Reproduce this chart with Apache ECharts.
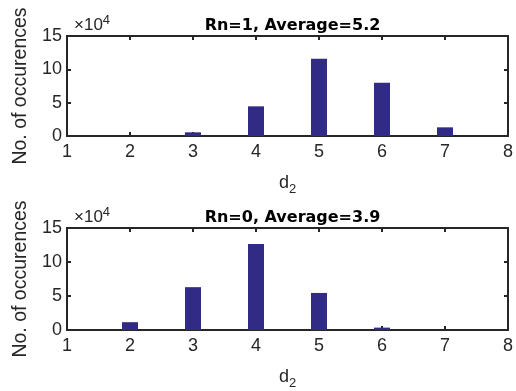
<!DOCTYPE html>
<html><head><meta charset="utf-8">
<script src="https://cdn.jsdelivr.net/npm/echarts@6/dist/echarts.min.js"></script>
<style>html,body{margin:0;padding:0;background:#fff}#c{width:516px;height:391px}</style>
</head><body><div id="c"></div>
<script>
var d2Top = [2, 3, 4, 5, 6, 7];
var countsTop = [0, 5500, 44500, 116000, 80000, 13000];
var d2Bottom = [2, 3, 4, 5, 6, 7];
var countsBottom = [11500, 63000, 126500, 54500, 3500, 0];
var titles = ['Rn=1, Average=5.2', 'Rn=0, Average=3.9'];
var xTicks = [1, 2, 3, 4, 5, 6, 7, 8];
var yTicks = [0, 5, 10, 15];
var yScale = 1e4;

var FONT = 'Liberation Sans, Arial, Helvetica, sans-serif';
var AX = '#262626';
var grids = [{left: 67, right: 8, top: 36, height: 100}, {left: 67, right: 8, top: 228, height: 102}];

function pairs(xs, ys) { return xs.map(function (x, i) { return [x, ys[i]]; }); }

var xAxes = [], yAxes = [], series = [], titleArr = [];
grids.forEach(function (g, i) {
  xAxes.push({
    type: 'value', gridIndex: i, min: xTicks[0], max: xTicks[xTicks.length - 1], interval: 1,
    axisLine: {onZero: false, lineStyle: {color: AX, width: 2}},
    axisTick: {inside: true, length: 4, lineStyle: {color: AX, width: 2}},
    splitLine: {show: false},
    axisLabel: {color: AX, fontSize: 18, fontFamily: FONT, margin: 7},
    name: 'd{s|2}', nameLocation: 'middle', nameGap: 35,
    nameTextStyle: {color: AX, fontSize: 18, fontFamily: FONT,
      rich: {s: {fontSize: 13, verticalAlign: 'bottom', padding: [12, 0, 0, 0], fontFamily: FONT, color: AX}}}
  });
  xAxes.push({
    type: 'value', gridIndex: i, position: 'top', min: xTicks[0], max: xTicks[xTicks.length - 1], interval: 1,
    axisLine: {onZero: false, lineStyle: {color: AX, width: 2}},
    axisTick: {inside: true, length: 4, lineStyle: {color: AX, width: 2}},
    splitLine: {show: false}, axisLabel: {show: false}
  });
  yAxes.push({
    type: 'value', gridIndex: i, min: yTicks[0] * yScale, max: yTicks[yTicks.length - 1] * yScale, interval: 5 * yScale,
    axisLine: {show: true, onZero: false, lineStyle: {color: AX, width: 2}},
    axisTick: {show: true, inside: true, length: 4, lineStyle: {color: AX, width: 2}},
    splitLine: {show: false},
    axisLabel: {color: AX, fontSize: 18, fontFamily: FONT, margin: 5, formatter: function (v) { return String(v / yScale); }},
    name: 'No. of occurences', nameLocation: 'middle', nameGap: 36,
    nameTextStyle: {color: AX, fontSize: 19.5, fontFamily: FONT}
  });
  yAxes.push({
    type: 'value', gridIndex: i, position: 'right', min: yTicks[0] * yScale, max: yTicks[yTicks.length - 1] * yScale, interval: 5 * yScale,
    axisLine: {show: true, onZero: false, lineStyle: {color: AX, width: 2}},
    axisTick: {show: true, inside: true, length: 4, lineStyle: {color: AX, width: 2}},
    splitLine: {show: false}, axisLabel: {show: false}
  });
  titleArr.push({
    text: titles[i], left: 287.5, textAlign: 'center', top: g.top - 23,
    textStyle: {fontSize: 16, fontWeight: 'bold', color: '#000', fontFamily: 'DejaVu Sans, sans-serif'}
  });
  titleArr.push({
    text: '×10{p|4}', left: 69, top: g.top - 27,
    textStyle: {fontSize: 17, fontWeight: 'normal', color: AX, fontFamily: FONT,
      rich: {p: {fontSize: 13, verticalAlign: 'top', padding: [0, 0, 9, 0], color: AX, fontFamily: FONT}}}
  });
});

series.push({
  type: 'bar', xAxisIndex: 0, yAxisIndex: 0, data: pairs(d2Top, countsTop), barWidth: 16,
  itemStyle: {color: '#312b86'}, silent: true
});
series.push({
  type: 'bar', xAxisIndex: 2, yAxisIndex: 2, data: pairs(d2Bottom, countsBottom), barWidth: 16,
  itemStyle: {color: '#312b86'}, silent: true
});

var chart = echarts.init(document.getElementById('c'), null, {renderer: 'canvas'});
chart.setOption({
  animation: false,
  backgroundColor: '#fff',
  title: titleArr,
  grid: grids,
  xAxis: xAxes,
  yAxis: yAxes,
  series: series
});
</script></body></html>
